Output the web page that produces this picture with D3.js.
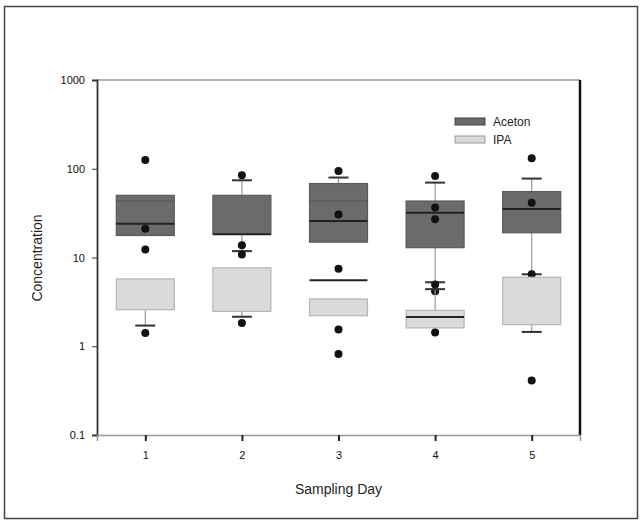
<!DOCTYPE html>
<html>
<head>
<meta charset="utf-8">
<script src="https://cdn.jsdelivr.net/npm/d3@7"></script>
<style>
    html, body { margin: 0; padding: 0; background: #fff; }
    svg { display: block; font-family: 'Liberation Sans', Arial, sans-serif; }
</style>
</head>
<body>
<div id="chart"></div>
<script>
// --- Data ---
const days = [1, 2, 3, 4, 5];
const yTicks = [0.1, 1, 10, 100, 1000];

// Aceton boxes
const acetonQ1 = [17.7, 18.3, 14.9, 12.9, 19.0];
const acetonQ3 = [50.2, 50.2, 68.1, 43.3, 55.3];
const acetonMedian = [24.0, 18.3, 25.7, 32.0, 35.1];
const acetonMean = [43.3, null, 43.3, null, null];
const acetonWhiskerLo = [null, 11.8, null, 5.26, 6.47];
const acetonWhiskerHi = [null, 74.1, 79.6, 69.8, 77.5];
const acetonPoints = [
    [125.7, 21.1, 12.3],
    [84.5, 13.7, 10.8],
    [94.4, 30.6],
    [83.0, 36.5, 26.9, 4.95, 4.16],
    [131.5, 41.5, 6.47]
];

// IPA boxes
const ipaQ1 = [2.58, 2.47, 2.21, 1.61, 1.75];
const ipaQ3 = [5.74, 7.65, 3.41, 2.54, 5.99];
const ipaMedian = [null, null, 5.54, 2.14, null];
const ipaWhiskerLo = [1.71, 2.15, null, null, 1.45];
const ipaWhiskerHi = [null, null, null, 4.4, null];
const ipaPoints = [
    [1.41],
    [1.83],
    [7.45, 1.54, 0.82],
    [1.43],
    [0.41]
];

// --- Chart setup ---
const W = 641, H = 522;
const plot = { left: 97, right: 580, top: 80, bottom: 435 };
const boxHalf = 29;
const capHalf = 10;

const svg = d3.select('#chart')
    .append('svg')
    .attr('width', W)
    .attr('height', H);

// outer frame
svg.append('rect')
    .attr('x', 4.5).attr('y', 6.5)
    .attr('width', 633).attr('height', 512)
    .attr('fill', 'none')
    .attr('stroke', '#444')
    .attr('stroke-width', 1.5);

const x = d3.scaleLinear()
    .domain([0.5, 5.5])
    .range([plot.left, plot.right]);

const y = d3.scaleLog()
    .domain([0.1, 1000])
    .range([plot.bottom, plot.top]);

// --- Series drawing ---
function drawSeries(q1, q3, med, mean, wLo, wHi, pts, fill, edge, meanColor) {
    const g = svg.append('g');

    days.forEach((d, i) => {
        const cx = x(d);

        // whisker lines (behind the box)
        [[wLo[i], q1[i]], [wHi[i], q3[i]]].forEach(([w, edgeVal]) => {
            if (w == null) return;
            g.append('line')
                .attr('x1', cx).attr('x2', cx)
                .attr('y1', y(w)).attr('y2', y(edgeVal))
                .attr('stroke', '#999')
                .attr('stroke-width', 1.2);
            g.append('line')
                .attr('x1', cx - capHalf).attr('x2', cx + capHalf)
                .attr('y1', y(w)).attr('y2', y(w))
                .attr('stroke', '#333')
                .attr('stroke-width', 2);
        });

        // box
        g.append('rect')
            .attr('x', cx - boxHalf)
            .attr('y', y(q3[i]))
            .attr('width', boxHalf * 2)
            .attr('height', y(q1[i]) - y(q3[i]))
            .attr('fill', fill)
            .attr('stroke', edge)
            .attr('stroke-width', 1.2);

        // mean line
        if (mean && mean[i] != null) {
            g.append('line')
                .attr('x1', cx - boxHalf).attr('x2', cx + boxHalf)
                .attr('y1', y(mean[i])).attr('y2', y(mean[i]))
                .attr('stroke', meanColor)
                .attr('stroke-width', 1.2);
        }

        // median line
        if (med[i] != null) {
            g.append('line')
                .attr('x1', cx - boxHalf).attr('x2', cx + boxHalf)
                .attr('y1', y(med[i])).attr('y2', y(med[i]))
                .attr('stroke', '#222')
                .attr('stroke-width', 2);
        }

        // outlier points
        g.selectAll(null)
            .data(pts[i])
            .enter()
            .append('circle')
            .attr('cx', cx)
            .attr('cy', v => y(v))
            .attr('r', 4)
            .attr('fill', '#111');
    });
}

drawSeries(acetonQ1, acetonQ3, acetonMedian, acetonMean, acetonWhiskerLo, acetonWhiskerHi,
    acetonPoints, '#6b6b6b', '#5a5a5a', '#555');
drawSeries(ipaQ1, ipaQ3, ipaMedian, null, ipaWhiskerLo, ipaWhiskerHi,
    ipaPoints, '#dadada', '#b5b5b5', '#999');

// --- Frame & axes ---
svg.append('line')
    .attr('x1', plot.left).attr('x2', plot.right)
    .attr('y1', plot.top).attr('y2', plot.top)
    .attr('stroke', '#999').attr('stroke-width', 1.5);

svg.append('line')
    .attr('x1', plot.right).attr('x2', plot.right)
    .attr('y1', plot.top).attr('y2', plot.bottom)
    .attr('stroke', '#111').attr('stroke-width', 2.5);

// Y axis
const yAxis = svg.append('g')
    .attr('transform', `translate(${plot.left}, 0)`)
    .call(d3.axisLeft(y).tickValues(yTicks).tickFormat(d3.format('~g')).tickSize(5).tickPadding(7));
yAxis.select('.domain').attr('stroke', '#333').attr('stroke-width', 1.8);
yAxis.selectAll('.tick line').attr('stroke', '#333');
yAxis.selectAll('text')
    .style('font-size', '11px')
    .style('font-family', 'Liberation Sans, Arial')
    .style('fill', '#111');

// X axis
const xAxis = svg.append('g')
    .attr('transform', `translate(0, ${plot.bottom})`)
    .call(d3.axisBottom(x).tickValues(days).tickFormat(d3.format('d')).tickSize(6).tickPadding(10));
xAxis.select('.domain').attr('stroke', '#999').attr('stroke-width', 1.5);
xAxis.selectAll('.tick line').attr('stroke', '#222').attr('stroke-width', 2);
xAxis.selectAll('text')
    .style('font-size', '11px')
    .style('font-family', 'Liberation Sans, Arial')
    .style('fill', '#111');

// Axis titles
svg.append('text')
    .attr('x', (plot.left + plot.right) / 2)
    .attr('y', 494)
    .attr('text-anchor', 'middle')
    .style('font-size', '14px')
    .style('fill', '#222')
    .text('Sampling Day');

svg.append('text')
    .attr('transform', 'translate(42, 258) rotate(-90)')
    .attr('text-anchor', 'middle')
    .style('font-size', '14px')
    .style('fill', '#222')
    .text('Concentration');

// --- Legend ---
const legendItems = [
    { label: 'Aceton', fill: '#6b6b6b', edge: '#444' },
    { label: 'IPA', fill: '#dadada', edge: '#999' }
];
const legend = svg.append('g').attr('transform', 'translate(455, 118)');
legendItems.forEach((it, i) => {
    legend.append('rect')
        .attr('x', 0).attr('y', i * 18)
        .attr('width', 30).attr('height', 7)
        .attr('fill', it.fill)
        .attr('stroke', it.edge);
    legend.append('text')
        .attr('x', 38).attr('y', i * 18 + 4)
        .attr('dy', '0.35em')
        .style('font-size', '12px')
        .style('fill', '#222')
        .text(it.label);
});
</script>
</body>
</html>
